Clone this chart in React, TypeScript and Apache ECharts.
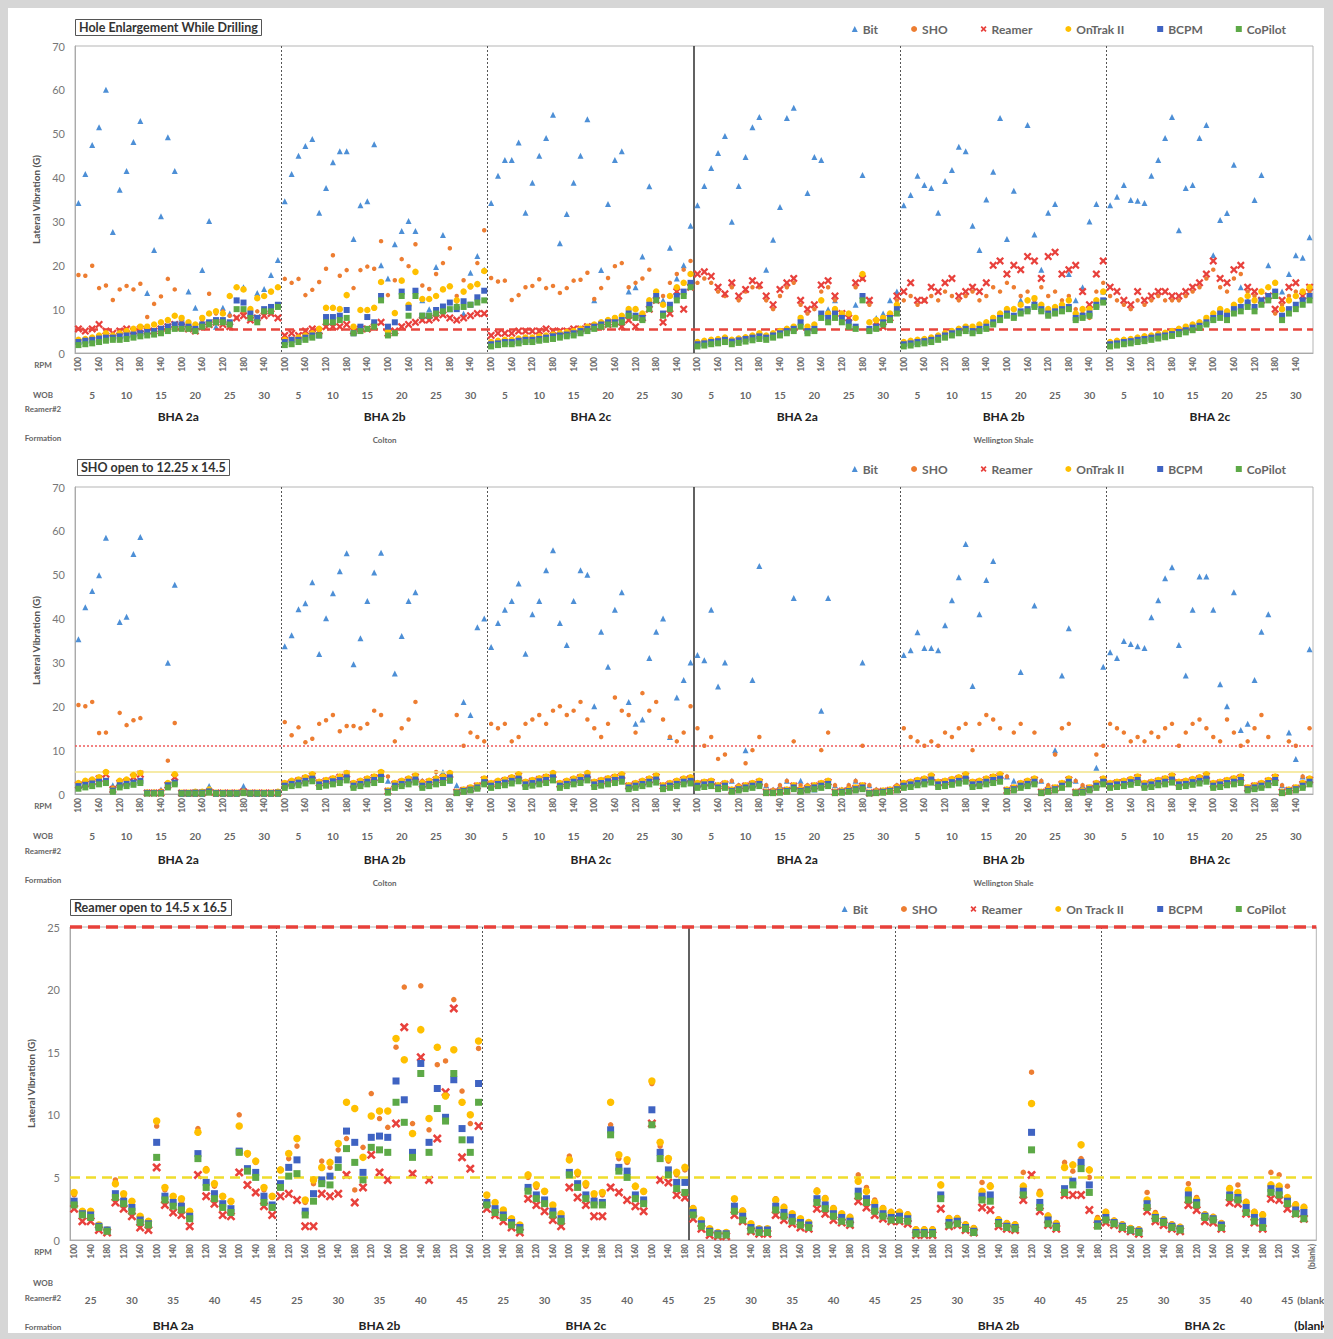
import React, { useEffect, useRef } from "react";
import * as echarts from "echarts";

// ---------- axis / category labels ----------
const rpmCycle = ["100", "120", "140", "160", "180"];
const wobP12 = ["5", "10", "15", "20", "25", "30"];
const wobP3 = ["25", "30", "35", "40", "45"];
const bhaNames = ["BHA 2a", "BHA 2b", "BHA 2c", "BHA 2a", "BHA 2b", "BHA 2c"];
const formations = ["Colton", "Wellington Shale"];
const blankLabel = "(blank)";
const rowLabels = ["RPM", "WOB", "Reamer#2", "Formation"];
const panelTitles = ["Hole Enlargement While Drilling", "SHO open to 12.25 x 14.5", "Reamer open to 14.5 x 16.5"];
const seriesNamesP12 = ["Bit", "SHO", "Reamer", "OnTrak II", "BCPM", "CoPilot"];
const seriesNamesP3 = ["Bit", "SHO", "Reamer", "On Track II", "BCPM", "CoPilot"];
const yName = "Lateral Vibration (G)";
const thresholdsP1 = [5.5];
const thresholdsP2 = [11, 5];
const thresholdsP3 = [25, 5];

// ---------- Panel 1 : Hole Enlargement While Drilling ----------
const p1Bit = [
  34.2,40.8,47.4,51.5,60,27.6,37.2,41.5,48.1,52.9,13.7,23.5,31.2,49.2,41.5,8,14,10.3,18.9,30.1,6,10.3,9,12,15,8,13.7,14.6,17.8,21.2,
  34.6,40.8,45,47.2,48.8,32,37.6,43.5,46,46,26,33.7,34.6,47.6,20,17,24.8,27.8,30.1,27.8,12,10,19.6,26.9,10,11,9,18.3,22.1,19,
  34.2,40.4,44,44,48,32,38.8,45,49,54.3,25,31.7,38.8,45,53.3,12,18.9,34,44,46,14,15,22,38,13,12,24,17,20,29,
  33.7,38.1,42.2,45.6,49.5,29.9,38.1,44.7,51.5,53.8,19,25.8,33.3,53.6,55.9,8,36.5,44.7,44,10,12,9,8,11,40.6,12,8,9,12,14,
  33.7,36,40.4,38.3,37.6,32,39.2,41.7,47,46,29,23.5,35,41.3,53.6,26,37,12,52,27,19,32,34,10,18,12,15,30,34,14,
  33.7,35.6,38.3,34.9,34.7,34.2,40.4,44,49,53.8,28,37.6,38.3,49,52,22.3,30.3,31.9,42.9,15,12,34.9,40.6,20,14,14,18,22.3,21.7,26.4,
];
const p1Sho = [
  17.8,17.6,19.9,14.8,15.4,12.1,14.5,15.3,14.5,15.8,8.2,11.2,12.9,16.9,14.5,7,6.5,6.5,7.5,13.5,9,9.5,8.5,8,9,10,9.5,10,10.5,11,
  16.9,16,16.9,13.2,14.4,16.2,19.2,22.3,17.6,18.9,14.8,18.9,19.7,19.2,25.5,13.2,16.6,21.4,19.8,24.8,15.4,14.6,18,20.5,23.9,13,16.6,15,20.5,28,
  17.1,16.3,16.5,12.1,13.2,15,15.3,16.8,14.8,15.3,13.7,14.8,16.5,16.7,18.3,12.3,14.8,17.1,19.8,20.5,15,16,17,19,14,13,16,18,19,21,
  16,17,16,14,13,15,12,14,15,15,12,10,13,15,16,11,9,10,14,15,12,8,7,15,17,11,7,6,8,12,
  12,13,11,12,13,12,14,13,12,13,14,12,13,15,14,16,15,13,14,12,15,13,14,12,13,10,9,8,14,16,
  13,12,11,10,12,11,12,13,12,12,12,13,14,15,17,19,15,14,17,18,14,13,11,12,9,11,13,14,12,14,
];
const p1Reamer = [
  5.5,5,5.5,6.5,5,4.5,5,5.5,5,5.5,5,5,5.5,6,6.5,6,5.5,5,6,6.5,7,6.5,6,8,8.5,7.5,8,8.5,9,8,
  4,4.5,4,5,5.5,5,6,6,6,6.5,5,5.5,5.5,6,7,4.5,5,6,6.5,7,7.5,7.5,8,8.7,8,7.5,8,8.5,9,9,
  4,4.5,4.5,4.5,5,5,5,5,5.5,5,5,5,5.5,5.5,6,6,6,6.5,7,6,7.5,6,8,10,12,7,9,14,10,15,
  18,18.5,17.5,15,13.5,16,13,14.5,16.5,15.5,13,11,14.5,16,17,12,10,11,15.5,16.5,13,9,8,16,17,12,7,6,8,13,
  14,16,12,12,15,14,16,17,13,14,15,14,16,20,21,18,20,19,22,21,17,22,23,18,19,20,14,11,18,21,
  15,14,12,11,14,12,13,14,14,13,13,14,15,16,18,21,17,16,19,20,15,14,12,13,10,12,15,16,13,15,
];
const p1OnTrak = [
  3,3.2,3.5,4,4.5,4,4.5,5,5.5,6,6,6.5,7,7.5,8.5,8,7,6.5,8,9,9.5,9,13,15,14.5,10,12.5,13,14,15,
  3,3,3.5,4,4.5,5.5,10.3,10.3,10,13.2,6,9.8,9.8,10.3,16.2,5,9.1,16.5,11,18.5,12.3,12.3,13,14.5,15.2,12,14,15.2,15.7,18.7,
  2.5,2.8,3,3,3.3,3.5,3.5,3.8,4,4.2,4.5,4.8,5,5.5,6,6.5,7,7.5,8,8.5,10,10,9,12,14,11,13,15,16,18,
  2.5,2.8,3,3.2,3.5,3,3.3,3.6,4,4.5,4,4.5,5,5.5,6,8,6,6.5,12,9,10,9,9,8,18,7,7.5,8,9,11,
  2.5,2.8,3,3.2,3.5,4,4.5,5,5.5,6,6,6.5,7,8,9,10,10,11,12,12.5,11,10,10.5,11,12,9,10,10,12,14,
  2.5,2.8,3,3.2,3.5,3.8,4,4.3,4.6,5,5.5,6,6.5,7,8,9,10,9.5,11,12,13,12,14,15,16,10,12,13,14,15,
];
const p1Bcpm = [
  2.5,2.8,3,3.3,3.5,3.5,3.8,4,4.2,4.5,4.8,5,5.5,6,6.5,6.5,6,5.5,6.5,7,7.5,7.5,7,12,11.5,9,8,10,10.5,11,
  2.5,3,3,3.5,4,4,8.2,8.2,8.5,9.8,4.5,6,8.2,7,13,6,7,14,10.3,14.2,8.5,8.5,9.8,10.6,11.5,10,11.8,11,12.7,14.2,
  2,2.2,2.5,2.5,2.8,3,3,3.2,3.5,3.8,4,4.2,4.5,5,5.5,6,6.5,7,7,7.5,9,8.5,8,11,13,9,11,13,14,16,
  2,2.2,2.5,2.7,3,2.6,2.9,3.2,3.5,3.8,3.5,4,4.5,5,5.5,7,5,5.5,9,8,9,8,7,6,13,5.5,6,7,8,10,
  2,2.2,2.5,2.7,3,3.5,4,4.5,5,5.5,5,5.5,6,7,8,9,8.5,9.5,10,11,10,9,9.5,10,10.5,8,8.5,9,11,12,
  2,2.2,2.5,2.7,3,3.2,3.5,3.8,4,4.3,4.8,5.2,5.8,6.2,7,8,9,8.5,10,10.5,11.5,10.5,12,13,14,8.5,10,11,12,13,
];
const p1CoPilot = [
  1.8,2,2.2,2.5,2.8,3,3,3.2,3.5,3.8,4,4.2,4.5,5,5.5,5.5,5.5,5,6,6.5,7,7,6.5,10,10,8,7,9.5,9.5,10.5,
  1.8,2,2.5,3,3.5,4,7,7,7.5,8,4.5,5,5.5,6,12,4,4.5,13,8.5,13,8.5,8.5,9,9.5,10,10.5,10.5,11,11.5,12,
  1.5,1.8,2,2,2.2,2.5,2.5,2.8,3,3.2,3.5,3.8,4,4.5,5,5.5,6,6.5,6.5,7,8.5,8,7.5,10,12,8.5,10,12,13,15,
  1.5,1.7,2,2.2,2.5,2,2.3,2.6,2.9,3.2,3,3.5,4,4.5,5,6,4.5,5,8,7,8,7,6,5.5,12,5,5.5,6.5,7.5,9,
  1.5,1.7,2,2.2,2.5,3,3.5,4,4.5,5,4.5,5,5.5,6.5,7.5,8.5,8,9,9.5,10.5,9.5,8.5,9,9.5,10,7.5,8,8.5,10.5,11.5,
  1.5,1.7,2,2.2,2.5,2.7,3,3.3,3.6,3.9,4.3,4.7,5.2,5.7,6.5,7.5,8,7.5,9,9.5,10.5,9.5,11,12,13,7.5,9,10,11,12,
];

// ---------- Panel 2 : SHO open to 12.25 x 14.5 ----------
const p2Bit = [
  35.3,42.6,46.3,49.9,58.4,2,39.2,40.4,54.7,58.6,0.5,0.5,1,29.9,47.7,0,0,0,0,1.8,0,0,0,0,1.8,0,0,0,0,0,
  33.7,36.2,42.1,43.5,48.3,31.9,40.1,45.8,50.8,54.9,29.6,35.5,44,50.5,55,3,27.5,36,44,46,3,2,4,5,3,2,21,18,38,40,
  33.5,39,42,44,48,32,41,44,51,55.6,39,34,44,51,50,20,37,29,42,46,21,16,17,31,37,40,13,22,26,30,
  31.7,30.5,42,24.5,30,3,2,10,26,52,2,1,2,3,44.7,3,2,1,19,44.7,2,1,2,3,30,2,1,0.5,1,2,
  31.7,32.8,36.9,33.3,33.3,32.8,38.5,44.2,49.4,57,24.6,41,48.8,53.1,3,4,3,27.8,2,43,3,2,10,27,37.8,3,2,1,6,29,
  32.3,31,34.9,34.2,33.7,33.3,40.3,44.2,49.2,51.7,34,27,42,49.6,49.6,42,25,20,46,14.6,16,26,37,41,3,2,14,8,4,33,
];
const p2Sho = [
  20.3,20,21,13.9,14,1.5,18.5,15.7,16.8,17.3,0.5,0.5,0.8,7.6,16.2,0.3,0.3,0.3,0.3,0.5,0.3,0.3,0.3,0.3,0.5,0.3,0.3,0.3,0.3,0.3,
  16.4,13.4,15.2,11.8,12.6,16,16.8,18,14.3,15.5,15.5,15,16,19,18,4,12,15,17,21,3,2,5,4,3,18,11,14,13,12,
  16,15,16,12,13,16,17,18,16,19,20,18,19,21,17,15,13,16,22,19,18,14,23,19,21,17,13,12,14,20,
  15,11,13,8,9,3,2,7,10,13,2,1,2,3,12,2,2,1,10,14,2,1,2,3,11,2,1,0.5,1,2,
  15,13,12,11,12,11,14,13,15,16,10,16,18,17,15,4,14,16,3,14,3,2,9,15,16,3,2,1,9,11,
  16,15,14,12,13,12,14,13,15,16,11,14,16,17,15,13,12,17,14,11,12,15,18,13,3,2,12,11,4,15,
];
const p2Reamer = [
  2,2.3,2.8,3.5,4.5,1,2.5,2.8,3.8,4.5,0.2,0.2,0.2,2,3.8,0.2,0.2,0.2,0.2,0.5,0.2,0.2,0.2,0.2,0.5,0.2,0.2,0.2,0.2,0.2,
  2.2,2.6,3,3.5,4.2,2.5,2.9,3.3,3.8,4.5,2.2,2.7,3.2,3.7,4.6,0.6,2.2,2.7,3.2,3.9,2.2,2.7,3.2,3.7,4.4,0.4,0.8,1.2,1.8,3.2,
  2.2,2.6,3,3.5,4.2,2.5,2.9,3.3,3.7,4.4,2.2,2.7,3.2,3.7,4.4,2.5,2.9,3.3,3.7,4.2,1.8,2.2,2.7,3.2,3.9,1.8,2.2,2.7,3.2,3.5,
  2.2,2.5,2.7,1.8,2.2,0.8,1.3,1.8,2.2,2.7,0.4,0.4,0.6,0.8,1.8,0.8,1.3,1.8,2.2,2.7,0.4,0.6,0.8,1.3,1.8,0.2,0.4,0.6,0.8,1.3,
  2.2,2.5,2.9,3.2,3.8,2.5,2.7,3.1,3.5,4.2,2.5,2.7,3.2,3.7,4.2,0.8,1.3,2.2,2.7,3.2,0.4,0.8,1.3,2.2,3.2,0.4,0.6,1.3,2.2,3.2,
  2.2,2.5,2.7,3.1,3.7,2.2,2.5,2.9,3.3,3.9,2.5,2.7,3.1,3.5,4.2,2.2,2.5,2.9,3.3,3.7,1.3,1.8,2.2,2.9,3.7,0.4,0.8,1.3,2.2,3.2,
];
const p2OnTrak = [
  2.5,3,3.3,3.8,5,1,3,3.3,4.3,4.8,0.3,0.3,0.3,2.5,4.5,0.3,0.3,0.5,0.5,1,0.3,0.3,0.3,0.3,0.5,0.3,0.3,0.3,0.3,0.5,
  2.5,3,3.3,3.8,4.5,2.8,3.2,3.6,4,4.8,2.5,3,3.5,4,5,0.8,2.5,3,3.5,4.2,2.5,3,3.5,4,4.8,0.5,1,1.5,2,3.5,
  2.5,3,3.3,3.8,4.5,2.8,3.2,3.6,4,4.8,2.5,3,3.5,4,4.8,2.8,3.2,3.6,4,4.5,2,2.5,3,3.5,4.2,2,2.5,3,3.5,3.8,
  2.5,2.8,3,2,2.5,1,1.5,2,2.5,3,0.5,0.5,0.8,1,2,1,1.5,2,2.5,3,0.5,0.8,1,1.5,2,0.3,0.5,0.8,1,1.5,
  2.5,2.8,3.2,3.5,4.2,2.8,3,3.4,3.8,4.5,2.8,3,3.5,4,4.5,1,1.5,2.5,3,3.5,0.5,1,1.5,2.5,3.5,0.5,0.8,1.5,2.5,3.5,
  2.5,2.8,3,3.4,4,2.5,2.8,3.2,3.6,4.2,2.8,3,3.4,3.8,4.5,2.5,2.8,3.2,3.6,4,1.5,2,2.5,3.2,4,0.5,1,1.5,2.5,3.5,
];
const p2Bcpm = [
  1.8,2.1,2.4,2.8,3,0.8,2,2.3,2.6,3,0.2,0.2,0.2,2,2.6,0.2,0.2,0.3,0.3,0.6,0.2,0.2,0.2,0.2,0.3,0.2,0.2,0.2,0.2,0.3,
  1.9,2.3,2.6,3,3.5,2.2,2.5,2.9,3.2,3.8,1.9,2.3,2.8,3.2,3.9,0.5,1.9,2.3,2.8,3.3,1.9,2.3,2.8,3.2,3.8,0.3,0.7,1,1.5,2.7,
  1.9,2.3,2.6,3,3.5,2.2,2.5,2.9,3.2,3.8,1.9,2.3,2.8,3.2,3.8,2.2,2.5,2.9,3.2,3.5,1.5,1.9,2.3,2.8,3.3,1.5,1.9,2.3,2.8,3,
  1.9,2.2,2.3,1.5,1.9,0.7,1.1,1.5,1.9,2.3,0.3,0.3,0.5,0.7,1.5,0.7,1.1,1.5,1.9,2.3,0.3,0.5,0.7,1.1,1.5,0.2,0.3,0.5,0.7,1.1,
  1.9,2.2,2.5,2.8,3.3,2.2,2.3,2.7,3,3.5,2.2,2.3,2.8,3.2,3.5,0.7,1.1,1.9,2.3,2.8,0.3,0.7,1.1,1.9,2.8,0.3,0.5,1.1,1.9,2.8,
  1.9,2.2,2.3,2.7,3.2,1.9,2.2,2.5,2.8,3.3,2.2,2.3,2.7,3,3.5,1.9,2.2,2.5,2.8,3.2,1.1,1.5,1.9,2.5,3.2,0.3,0.7,1.1,1.9,2.8,
];
const p2CoPilot = [
  1.2,1.5,1.8,2.2,2.5,0.5,1.5,1.8,2.1,2.5,0.1,0.1,0.1,1.5,2.2,0.1,0.1,0.1,0.1,0.3,0.1,0.1,0.1,0.1,0.2,0.1,0.1,0.1,0.1,0.1,
  1.4,1.8,2,2.4,2.9,1.6,1.9,2.2,2.5,3.1,1.4,1.8,2.2,2.5,3.2,0.3,1.4,1.8,2.2,2.6,1.4,1.8,2.2,2.5,3.1,0.2,0.5,0.8,1.2,2.2,
  1.4,1.8,2,2.4,2.9,1.6,1.9,2.2,2.5,3.1,1.4,1.8,2.2,2.5,3.1,1.6,1.9,2.2,2.5,2.8,1.1,1.4,1.8,2.2,2.6,1.1,1.4,1.8,2.2,2.4,
  1.4,1.6,1.8,1.1,1.4,0.5,0.8,1.1,1.4,1.8,0.2,0.2,0.3,0.5,1.1,0.5,0.8,1.1,1.4,1.8,0.2,0.3,0.5,0.8,1.1,0.1,0.2,0.3,0.5,0.8,
  1.4,1.6,2,2.2,2.6,1.6,1.8,2.1,2.4,2.8,1.6,1.8,2.2,2.5,2.8,0.5,0.8,1.4,1.8,2.2,0.2,0.5,0.8,1.4,2.2,0.2,0.3,0.8,1.4,2.2,
  1.4,1.6,1.8,2.1,2.5,1.4,1.6,2,2.2,2.6,1.6,1.8,2.1,2.4,2.8,1.4,1.6,2,2.2,2.5,0.8,1.1,1.4,2,2.5,0.2,0.5,0.8,1.4,2.2,
];

// ---------- Panel 3 : Reamer open to 14.5 x 16.5 (Bit off scale) ----------
const p3Bit: (number | null)[] = [];
const p3Sho = [
  3.6,2.2,2.1,1.1,0.8, 4.8,3.5,3.0,1.8,1.4, 9.1,4.0,3.3,3.1,2.2, 8.9,5.7,4.3,3.4,3.0, 10.0,6.8,6.2,4.0,3.4,
  5.6,6.5,7.5,3.0,4.5, 6.3,5.8,7.2,8.1,4.0, 7.4,11.7,9.7,9.0,15.4, 20.2,9.3,20.3,8.8,14.0, 14.3,19.2,11.9,9.3,15.3,
  3.5,2.8,2.3,1.6,1.1, 5.0,4.2,3.8,2.6,2.0, 6.7,5.2,4.3,3.5,3.6, 9.2,6.5,6.2,4.2,3.8, 12.5,7.5,6.3,5.2,5.6,
  2.6,1.6,0.9,0.6,0.6, 3.2,2.4,1.3,0.9,0.9, 3.3,2.7,2.1,1.7,1.4, 4.0,3.4,2.6,2.1,1.9, 5.2,4.2,3.2,2.6,2.3,
  2.3,2.1,0.9,0.9,0.9, 4.4,1.8,1.8,1.3,1.0, 4.6,4.4,1.7,1.4,1.3, 5.4,13.4,3.9,2.0,1.4, 6.2,5.5,6.5,5.0,1.8,
  2.3,1.6,1.3,1.0,0.9, 3.8,2.2,1.7,1.3,1.1, 4.5,3.4,2.1,1.9,1.4, 4.2,4.4,3.1,2.3,2.1, 5.4,5.2,4.3,2.9,2.7,
  null,
];
const p3Reamer = [
  2.5,1.5,1.5,0.8,0.6, 3.0,2.5,1.9,1.0,0.8, 5.8,2.8,2.2,2.0,1.1, 5.2,3.5,2.9,2.0,1.9, 5.4,4.4,3.8,2.7,2.0,
  3.5,3.7,3.2,1.1,1.1, 3.7,3.5,3.7,5.2,3.0, 4.2,6.8,5.4,4.8,9.3, 17.0,5.3,14.6,4.8,8.1, 11.8,18.5,6.6,5.7,9.1,
  2.5,2.0,1.5,1.0,0.6, 3.3,2.8,2.3,1.6,1.1, 4.2,3.4,2.8,1.9,1.9, 4.2,3.8,3.2,2.7,2.3, 9.3,4.8,4.6,3.6,3.4,
  1.7,0.9,0.4,0.3,0.3, 2.0,1.5,0.7,0.5,0.5, 2.0,1.6,1.3,1.0,0.9, 2.5,2.1,1.6,1.4,1.2, 3.1,2.6,2.0,1.7,1.5,
  1.5,1.3,0.4,0.4,0.4, 2.5,1.1,1.2,0.8,0.6, 2.6,2.4,1.1,0.9,0.8, 3.2,5.2,2.3,1.2,0.9, 3.6,3.6,3.6,2.4,1.2,
  1.4,1.2,0.9,0.7,0.5, 2.3,1.5,1.2,0.9,0.7, 2.8,2.4,1.5,1.4,0.9, 3.0,2.9,2.1,1.4,0.9, 3.3,3.2,2.5,2.1,1.7,
  null,
];
const p3OnTrak = [
  3.8,2.3,2.3,1.2,0.8, 4.5,3.7,3.1,1.9,1.5, 9.5,4.2,3.5,3.3,2.3, 8.6,5.6,4.5,3.5,3.1, 9.1,6.9,6.3,4.2,3.5,
  5.6,6.9,8.1,3.2,4.8, 5.8,6.2,7.7,11.0,10.5, 6.6,9.9,10.3,10.3,16.1, 14.4,8.5,16.8,9.7,15.4, 11.5,15.2,11.0,10.0,15.9,
  3.6,3.0,2.4,1.7,1.2, 5.2,4.4,3.9,2.8,2.1, 6.4,5.4,4.5,3.7,3.8, 11.0,6.8,6.4,4.3,3.9, 12.7,7.8,6.5,5.4,5.8,
  2.5,1.6,0.9,0.6,0.6, 3.3,2.3,1.3,0.9,0.9, 3.2,2.6,2.1,1.7,1.4, 3.9,3.3,2.5,2.1,1.8, 4.7,3.9,3.0,2.5,2.2,
  2.2,2.0,0.8,0.8,0.8, 4.4,1.7,1.7,1.2,0.9, 3.9,4.3,1.6,1.3,1.2, 4.3,10.9,3.7,1.9,1.3, 5.8,6.0,7.6,5.6,1.6,
  2.2,1.5,1.2,0.9,0.8, 3.2,2.0,1.6,1.2,1.0, 4.0,3.2,2.0,1.8,1.3, 4.1,3.8,3.0,2.2,2.0, 4.4,4.3,3.4,2.8,2.6,
  null,
];
const p3Bcpm = [
  3.1,2.1,2.0,1.1,0.8, 3.7,3.1,2.6,1.6,1.3, 7.8,3.5,3.0,2.7,1.9, 6.9,4.6,3.7,2.9,2.5, 7.1,5.7,5.4,3.5,2.8,
  4.5,5.8,6.4,2.3,3.7, 4.8,5.1,6.4,8.7,7.8, 5.4,8.2,8.3,8.2,12.7, 11.2,7.0,14.1,7.8,12.1, 9.8,12.8,8.9,8.0,12.5,
  3.0,2.5,2.0,1.4,1.0, 4.2,3.6,3.2,2.3,1.7, 5.4,4.5,3.6,3.1,3.0, 8.8,5.8,5.5,3.6,3.2, 10.4,7.0,5.6,4.6,4.6,
  2.2,1.3,0.7,0.5,0.5, 2.7,1.9,1.0,0.8,0.8, 2.7,2.2,1.8,1.4,1.2, 3.3,2.8,2.1,1.8,1.5, 3.9,3.3,2.6,2.1,1.8,
  1.9,1.7,0.6,0.6,0.6, 3.6,1.4,1.5,1.0,0.7, 3.5,3.6,1.4,1.1,1.0, 3.9,8.6,3.0,1.6,1.1, 4.1,4.7,6.2,4.4,1.3,
  1.8,1.4,1.1,0.8,0.7, 2.9,1.8,1.5,1.1,0.9, 3.6,3.0,1.9,1.7,1.2, 3.6,3.4,2.6,1.8,1.5, 4.1,3.9,3.1,2.4,2.2,
  null,
];
const p3CoPilot = [
  2.8,2.0,1.8,1.0,0.7, 3.4,2.9,2.3,1.4,1.2, 6.6,3.2,2.7,2.4,1.7, 6.5,4.2,3.3,2.6,2.2, 7.0,5.5,5.0,3.0,2.6,
  4.2,5.1,5.3,2.0,3.1, 4.5,4.4,5.8,7.3,6.2, 4.8,7.4,7.2,7.0,11.0, 9.4,6.6,13.3,7.0,10.5, 9.5,13.3,8.0,7.0,11.0,
  2.8,2.2,1.8,1.2,0.8, 3.9,3.3,2.9,2.0,1.5, 5.2,4.2,3.3,2.8,2.8, 8.4,5.5,5.0,3.3,2.9, 9.2,6.5,5.2,4.1,3.8,
  2.0,1.1,0.6,0.4,0.4, 2.3,1.6,0.8,0.6,0.6, 2.4,1.9,1.5,1.2,1.0, 3.0,2.5,1.9,1.5,1.3, 3.5,3.0,2.3,1.9,1.6,
  1.6,1.5,0.5,0.5,0.5, 3.3,1.2,1.3,0.9,0.6, 3.2,3.1,1.3,1.0,0.9, 3.6,7.2,2.6,1.3,1.0, 3.8,4.4,5.7,3.8,1.1,
  1.6,1.3,1.0,0.8,0.6, 2.6,1.7,1.4,1.0,0.8, 3.2,2.8,1.8,1.6,1.0, 3.4,3.2,2.2,1.5,1.0, 3.8,3.6,2.9,2.1,1.7,
  null,
];

// ---------- styles ----------
const FONT = 'Lato, "Open Sans", "DejaVu Sans", sans-serif';
const COLORS = ["#4d8fd6", "#ed7d31", "#e8413c", "#ffc000", "#3f63c2", "#5da947"];
const X_PATH = "path://M2,0 L5,3 L8,0 L10,2 L7,5 L10,8 L8,10 L5,7 L2,10 L0,8 L3,5 L0,2 Z";
const SYMBOLS = ["triangle", "circle", X_PATH, "circle", "rect", "rect"];

type Cats = { rpm: string[]; wob: string[]; bha: string[]; form: string[] };

function buildCats(wobs: string[], withBlank: boolean): Cats {
  const c: Cats = { rpm: [], wob: [], bha: [], form: [] };
  bhaNames.forEach((b, s) => {
    wobs.forEach((w) => {
      rpmCycle.forEach((r) => {
        c.rpm.push(r);
        c.wob.push(w);
        c.bha.push(b);
        c.form.push(formations[s < 3 ? 0 : 1]);
      });
    });
  });
  if (withBlank) {
    c.rpm.push(blankLabel);
    c.wob.push(blankLabel);
    c.bha.push(blankLabel);
    c.form.push(blankLabel);
  }
  return c;
}

const App: React.FC = () => {
  const ref = useRef<HTMLDivElement>(null);

  useEffect(() => {
    if (!ref.current) return;
    const chart = echarts.init(ref.current, undefined, { renderer: "svg" });

    const cats12 = buildCats(wobP12, false);
    const cats3 = buildCats(wobP3, true);

    const panels = [
      { left: 75, top: 46, width: 1238, height: 307, sec: 30, cats: cats12, ymax: 70, yint: 10, names: seriesNamesP12,
        data: [p1Bit, p1Sho, p1Reamer, p1OnTrak, p1Bcpm, p1CoPilot], rpmInt: 2,
        offs: [33, 53, 79], showForm: true, title: { left: 75, top: 19 }, legendTop: 18,
        sizes: [6, 4.5, 8, 6.5, 6, 6],
        lines: [{ v: thresholdsP1[0], color: "#e8453c", width: 2.5, type: [9, 5] }] },
      { left: 75, top: 487, width: 1238, height: 307, sec: 30, cats: cats12, ymax: 70, yint: 10, names: seriesNamesP12,
        data: [p2Bit, p2Sho, p2Reamer, p2OnTrak, p2Bcpm, p2CoPilot], rpmInt: 2,
        offs: [33, 55, 81], showForm: true, title: { left: 77, top: 459 }, legendTop: 458,
        sizes: [6, 4.5, 8, 6.5, 6, 6],
        lines: [
          { v: thresholdsP2[0], color: "#ef5b5b", width: 1.5, type: [2, 2] },
          { v: thresholdsP2[1], color: "#f3e48a", width: 1.5, type: "solid" },
        ] },
      { left: 70, top: 927, width: 1247, height: 313, sec: 25, cats: cats3, ymax: 25, yint: 5, names: seriesNamesP3,
        data: [p3Bit, p3Sho, p3Reamer, p3OnTrak, p3Bcpm, p3CoPilot], rpmInt: 1,
        offs: [51, 75, 120], showForm: false, title: { left: 70, top: 899 }, legendTop: 898,
        sizes: [7, 5.5, 9, 7.5, 7, 7],
        lines: [
          { v: thresholdsP3[0], color: "#e8403a", width: 3.5, type: [12, 6] },
          { v: thresholdsP3[1], color: "#f0dd2c", width: 2.5, type: [10, 6] },
        ] },
    ];

    const grid: any[] = [];
    const xAxis: any[] = [];
    const yAxis: any[] = [];
    const series: any[] = [];
    const title: any[] = [];
    const legend: any[] = [];
    const graphic: any[] = [];

    const rowY = [
      [365, 395, 409, 438],
      [806, 836, 851, 880],
      [1252, 1283, 1298, 1327],
    ];

    panels.forEach((p, pi) => {
      const n = p.cats.rpm.length;
      const mid = 3 * p.sec;
      grid.push({ left: p.left, top: p.top, width: p.width, height: p.height, show: true,
        borderColor: "#b5b5b5", borderWidth: 1, backgroundColor: "transparent", containLabel: false });

      // RPM row + solid formation divider (tick 0 added so band positions resolve; edge lines suppressed)
      xAxis.push({
        type: "category", gridIndex: pi, data: p.cats.rpm, boundaryGap: true, position: "bottom",
        axisLine: { show: true, lineStyle: { color: "#aaa" } }, axisTick: { show: false },
        axisLabel: { rotate: 90, interval: p.rpmInt, fontSize: 8.5, color: "#666", fontWeight: "bold", margin: 4, fontFamily: FONT },
        splitLine: { show: true, showMinLine: false, showMaxLine: false, interval: (i: number) => i === 0 || i === mid,
          lineStyle: { color: "#3a3a3a", width: 1.6, type: "solid" } },
      });
      // WOB row
      xAxis.push({
        type: "category", gridIndex: pi, data: p.cats.wob, boundaryGap: true, position: "bottom", offset: p.offs[0],
        axisLine: { show: false }, axisTick: { show: false },
        axisLabel: { interval: (i: number) => i % 5 === 2 || (i === n - 1 && pi === 2), fontSize: 10, color: "#666", fontWeight: "bold", margin: 4, fontFamily: FONT },
        splitLine: { show: false },
      });
      // BHA row + dotted section dividers
      const bhaIdx = p.sec % 2 === 0 ? p.sec / 2 - 1 : (p.sec - 1) / 2;
      xAxis.push({
        type: "category", gridIndex: pi, data: p.cats.bha, boundaryGap: true, position: "bottom", offset: p.offs[1],
        axisLine: { show: false }, axisTick: { show: false },
        axisLabel: { interval: (i: number) => (i % p.sec === bhaIdx && i < 6 * p.sec) || (pi === 2 && i === n - 1), fontSize: 12, color: "#222", fontWeight: "bold", margin: 4,
          padding: p.sec % 2 === 0 ? [0, 0, 0, 7] : 0, fontFamily: FONT },
        splitLine: { show: true, showMinLine: false, showMaxLine: false,
          interval: (i: number) => i % p.sec === 0 && i !== mid && i < 6 * p.sec,
          lineStyle: { color: "#555", width: 1, type: [2, 2] } },
      });
      // Formation row
      const formIdx = p.sec % 2 === 0 ? mid / 2 - 1 : (mid - 1) / 2;
      xAxis.push({
        type: "category", gridIndex: pi, data: p.cats.form, boundaryGap: true, position: "bottom", offset: p.offs[2],
        axisLine: { show: false }, axisTick: { show: false },
        axisLabel: { show: p.showForm, interval: (i: number) => i % mid === formIdx && i < 6 * p.sec, fontSize: 8, color: "#666", fontWeight: "bold", margin: 4,
          padding: p.sec % 2 === 0 ? [0, 0, 0, 7] : 0, fontFamily: FONT },
        splitLine: { show: false },
      });

      yAxis.push({
        type: "value", gridIndex: pi, min: 0, max: p.ymax, interval: p.yint,
        name: yName, nameLocation: "middle", nameGap: 30,
        nameTextStyle: { fontSize: 10, fontWeight: "bold", color: "#555", fontFamily: FONT },
        axisLine: { show: true, lineStyle: { color: "#aaa" } }, axisTick: { show: false },
        axisLabel: { fontSize: 11, color: "#777", margin: 10, fontFamily: FONT },
        splitLine: { show: false },
      });

      p.names.forEach((nm, si) => {
        const s: any = {
          type: "scatter", name: nm, xAxisIndex: pi * 4, yAxisIndex: pi, data: p.data[si],
          symbol: SYMBOLS[si], symbolSize: p.sizes[si], silent: true, z: 2 + si,
          itemStyle: { color: COLORS[si], opacity: 1 },
        };
        if (si === 1) {
          s.markLine = {
            silent: true, symbol: ["none", "none"], label: { show: false },
            data: p.lines.map((l) => ({ yAxis: l.v, lineStyle: { color: l.color, width: l.width, type: l.type } })),
          };
        }
        series.push(s);
      });

      title.push({
        text: panelTitles[pi], left: p.title.left, top: p.title.top, padding: [2, 4, 2, 4],
        borderColor: "#555", borderWidth: 1,
        textStyle: { fontSize: 12.5, fontWeight: "bold", color: "#333", fontFamily: FONT },
      });
      legend.push({
        top: p.legendTop, right: 42, itemGap: 33, itemWidth: 6, itemHeight: 6, selectedMode: false,
        data: p.names, textStyle: { fontSize: 12, fontWeight: "bold", color: "#666", fontFamily: FONT },
      });

      rowLabels.forEach((t, ri) => {
        graphic.push({
          type: "text", x: 43, y: rowY[pi][ri], silent: true,
          style: { text: t, align: "center", verticalAlign: "middle", textAlign: "center", textVerticalAlign: "middle",
            fontSize: 8, fontWeight: "bold", fill: "#666", fontFamily: FONT },
        });
      });
    });

    chart.setOption({
      animation: false,
      backgroundColor: "#ffffff",
      textStyle: { fontFamily: FONT },
      tooltip: { show: false },
      title, legend, grid, xAxis, yAxis, series, graphic,
    });

    return () => chart.dispose();
  }, []);

  return (
    <div style={{ position: "absolute", left: 0, top: 0, width: 1333, height: 1339, background: "#fff" }}>
      <div ref={ref} style={{ position: "absolute", left: 0, top: 0, width: 1333, height: 1339 }} />
      <div style={{ position: "absolute", left: 0, top: 0, width: 1333, height: 1339, boxSizing: "border-box",
        borderStyle: "solid", borderColor: "#d6d6d6", borderWidth: "8px 9px 6px 8px", pointerEvents: "none" }} />
    </div>
  );
};

export default App;
